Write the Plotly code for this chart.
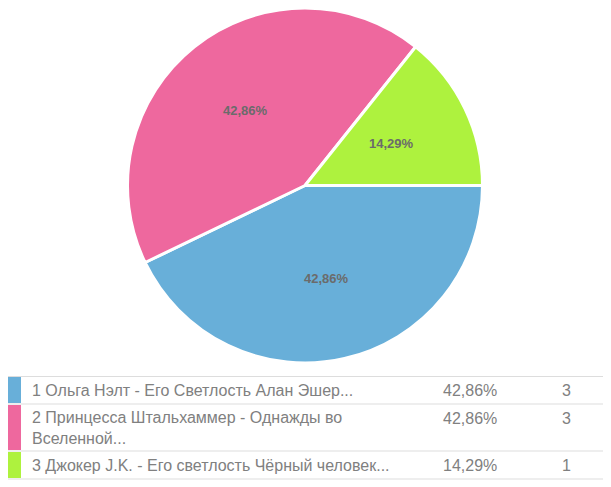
import math
import plotly.graph_objects as go

labels = [
    "1 Ольга Нэлт - Его Светлость Алан Эшер...",
    "2 Принцесса Штальхаммер - Однажды во<br>Вселенной...",
    "3 Джокер J.K. - Его светлость Чёрный человек...",
]
counts = [3, 3, 1]
colors = ["#68AFD9", "#EE689E", "#AEF23E"]

total = sum(counts)
pcts = [c / total for c in counts]

# the page body adds an 8px margin, so the figure covers the window from (8, 8)
OFF = 8
W, H = 611 - OFF, 487 - OFF


def px(x):
    return (x - OFF) / W


def py(y):
    return min(1, 1 - (y - OFF) / H)


def fmt(p):
    return f"{p * 100:.2f}%".replace(".", ",")


# pie box in page pixels
left, right, top, bottom = 127, 483, 7, 363
cx, cy = (left + right) / 2, (max(top, OFF) + bottom) / 2
R = min(right - left, bottom - max(top, OFF)) / 2

fig = go.Figure()

fig.add_trace(go.Pie(
    labels=labels, values=counts, sort=False, direction="clockwise", rotation=90,
    marker=dict(colors=colors, line=dict(color="white", width=3)),
    textinfo="none", hoverinfo="label+value+percent", showlegend=False,
    domain=dict(x=[px(left), px(right)], y=[py(bottom), py(top)]),
))

annotations = []
# percentage labels inside the slices, at the middle angle of each slice
start = 0.0
for i, p in enumerate(pcts):
    ang = math.radians((start + p / 2) * 360)  # clockwise from 3 o'clock
    start += p
    lx, ly = cx + 0.54 * R * math.cos(ang), cy + 0.54 * R * math.sin(ang)
    annotations.append(dict(xref="paper", yref="paper", x=px(lx), y=py(ly), xanchor="center", yanchor="middle",
                            text=f"<b>{fmt(p)}</b>", showarrow=False,
                            font=dict(family="Liberation Sans, Arial", size=13, color="#6b6b6b")))

font = dict(family="Liberation Sans, Arial", size=16, color="#808080")

# legend table rows (top, bottom, text centre, first line centre)
rows = [(377, 403, 390, 390), (405, 450, 428, 418), (452, 478, 465, 465)]

shapes = [dict(type="line", xref="paper", yref="paper", x0=px(5), x1=px(605),
               y0=py(376.5), y1=py(376.5), line=dict(color="#dddddd", width=1))]
for i, (rt, rb, mid, first) in enumerate(rows):
    shapes.append(dict(type="rect", xref="paper", yref="paper", x0=px(5), x1=px(21),
                       y0=py(rb), y1=py(rt), fillcolor=colors[i], line=dict(width=0)))
    shapes.append(dict(type="line", xref="paper", yref="paper", x0=px(5), x1=px(605),
                       y0=py(rb + 1), y1=py(rb + 1), line=dict(color="#dddddd", width=1)))
    annotations.append(dict(xref="paper", yref="paper", x=px(30), y=py(mid), xanchor="left", yanchor="middle",
                            text=labels[i], showarrow=False, font=font, align="left"))
    annotations.append(dict(xref="paper", yref="paper", x=px(499), y=py(first), xanchor="right", yanchor="middle",
                            text=fmt(pcts[i]), showarrow=False, font=font))
    annotations.append(dict(xref="paper", yref="paper", x=px(566), y=py(first), xanchor="center", yanchor="middle",
                            text=str(counts[i]), showarrow=False, font=font))

fig.update_layout(
    width=W, height=H, margin=dict(l=0, r=0, t=0, b=0),
    paper_bgcolor="white", plot_bgcolor="white",
    shapes=shapes, annotations=annotations,
)

fig.write_html("out.html")
